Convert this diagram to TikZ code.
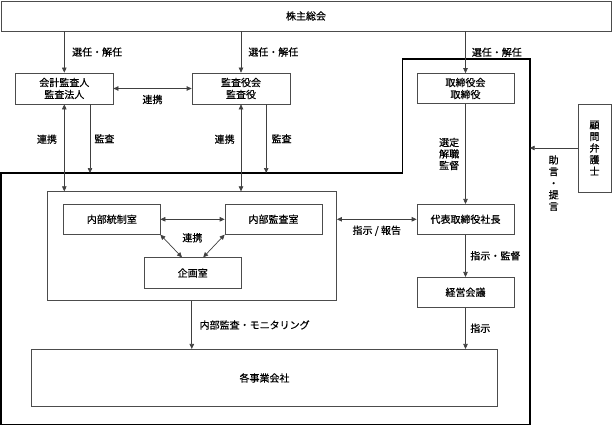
\documentclass[tikz,border=0pt]{standalone}
\usepackage{fontspec}
\setmainfont{Noto Sans CJK JP}[FakeBold=0.5]
\usetikzlibrary{arrows.meta,positioning}
\tikzset{
    box/.style={draw=black!70, line width=0.7pt, inner sep=0pt, align=center, font=\fontsize{10}{12}\selectfont},
    lbl/.style={inner sep=0pt, align=center, font=\fontsize{10}{11.5}\selectfont},
    arr/.style={draw=black!75, line width=0.7pt, -{Triangle[length=5pt,width=4.5pt]}},
    dbl/.style={draw=black!75, line width=0.7pt, {Triangle[length=5pt,width=4.5pt]}-{Triangle[length=5pt,width=4.5pt]}},
    frame/.style={draw=black, line width=1.6pt}
}
\begin{document}
\begin{tikzpicture}[x=1pt, y=-1pt]
                \useasboundingbox (0,0) rectangle (612,425);
                \coordinate (fl) at (1,173);
                \coordinate (fm) at (402.5,173);
                \coordinate (ft) at (402.5,59.3);
                \coordinate (fr) at (529.7,59.3);
                \coordinate (fb) at (529.7,424.3);
                \coordinate (fo) at (1,424.3);
                \draw[frame] (fl) -- (fm) -- (ft) -- (fr) -- (fb) -- (fo) -- cycle;
                \node[box, minimum width=610, minimum height=30] (kabu) at (306,16) {株主総会};
                \node[box, minimum width=97.4, minimum height=31] (kaikei) at (64.3,88.5) {会計監査人\\監査法人};
                \node[box, minimum width=98, minimum height=31] (kansayaku) at (241,88.5) {監査役会\\監査役};
                \node[box, minimum width=97, minimum height=30] (torishimari) at (465.5,88.5) {取締役会\\取締役};
                \node[box, minimum width=33, minimum height=88, font=\fontsize{10}{11.6}\selectfont] (komon) at (594.5,148) {顧\\問\\弁\\護\\士};
                \node[box, minimum width=289.5, minimum height=109] (naibu) at (191.8,246.2) {};
                \node[box, minimum width=96.4, minimum height=30] (tosei) at (111.8,219.3) {内部統制室};
                \node[box, minimum width=97, minimum height=30] (kansashitsu) at (273.5,219.3) {内部監査室};
                \node[box, minimum width=96.6, minimum height=30.6] (kikaku) at (192.7,273) {企画室};
                \node[box, minimum width=97, minimum height=30] (daihyo) at (465.5,219.3) {代表取締役社長};
                \node[box, minimum width=97, minimum height=30] (keiei) at (465.5,292.3) {経営会議};
                \node[box, minimum width=466.5, minimum height=57.4] (jigyo) at (264.5,378) {各事業会社};
                \draw[arr] (kabu.south -| kaikei) -- (kaikei.north) node[lbl, midway, right=7.5pt] (sen1) {選任・解任};
                \draw[arr] (kabu.south -| kansayaku) -- (kansayaku.north) node[lbl, midway, right=7pt] (sen2) {選任・解任};
                \draw[arr] (kabu.south -| torishimari) -- (torishimari.north) node[lbl, midway, right=6pt] (sen3) {選任・解任};
                \draw[dbl] (kaikei.east) -- (kansayaku.west) node[lbl, midway, below=6pt] (renkei1) {連携};
                \draw[dbl] (kaikei.south) -- (kaikei.south |- naibu.north) node[lbl, pos=0.4, left=7pt] (renkei2) {連携};
                \draw[arr] ([xshift=25.7]kaikei.south) -- ([xshift=25.7]kaikei.south |- fl) node[lbl, midway, right=4pt] (kansa1) {監査};
                \draw[dbl] (kansayaku.south) -- (kansayaku.south |- naibu.north) node[lbl, pos=0.4, left=6pt] (renkei3) {連携};
                \draw[arr] ([xshift=25.2]kansayaku.south) -- ([xshift=25.2]kansayaku.south |- fl) node[lbl, midway, right=5pt] (kansa2) {監査};
                \draw[arr] (torishimari.south) -- (daihyo.north) node[lbl, midway, left=6pt] (sentei) {選定\\解職\\監督};
                \draw[arr] (komon.west) -- (komon.west -| fr) node[lbl, midway, below=7pt, font=\fontsize{10}{11.6}\selectfont] (jogen) {助\\言\\・\\提\\言};
                \draw[dbl] (tosei.east) -- (kansashitsu.west);
                \node[lbl] (renkei4) at (192.4,237.7) {連携};
                \draw[dbl] (tosei.south east) -- ([xshift=-10.7]kikaku.north);
                \draw[dbl] (kansashitsu.south west) -- ([xshift=10.5]kikaku.north);
                \draw[dbl] (naibu.east |- daihyo) -- (daihyo.west) node[lbl, midway, below=6pt] (shiji1) {指示 / 報告};
                \draw[arr] (daihyo.south) -- (keiei.north) node[lbl, midway, right=4.5pt] (shiji2) {指示・監督};
                \draw[arr] (keiei.south) -- (keiei.south |- jigyo.north) node[lbl, midway, right=4.5pt] (shiji3) {指示};
                \draw[arr] (naibu.south) -- (naibu.south |- jigyo.north) node[lbl, midway, right=7.5pt] (monitor) {内部監査・モニタリング};
            \end{tikzpicture}
\end{document}
